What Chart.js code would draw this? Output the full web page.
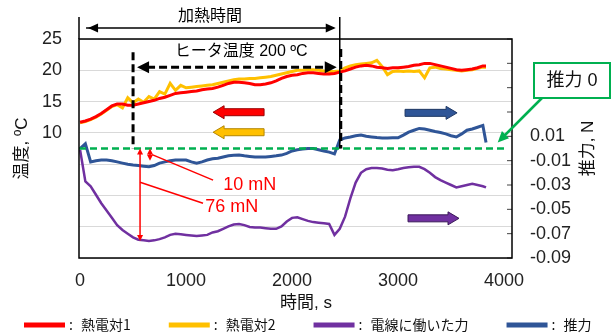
<!DOCTYPE html>
<html>
<head>
<meta charset="utf-8">
<script src="https://cdn.jsdelivr.net/npm/chart.js@4.4.0/dist/chart.umd.min.js"></script>
<style>
html, body { margin: 0; padding: 0; background: #fff; }
</style>
</head>
<body>
<canvas id="chart" width="612" height="334"></canvas>
<script>
// time, s
const time = [
  0, 50, 100, 150, 200, 250, 300, 350, 400, 450,
  500, 550, 600, 650, 700, 750, 800, 850, 900, 950,
  1000, 1050, 1100, 1150, 1200, 1250, 1300, 1350, 1400, 1450,
  1500, 1550, 1600, 1650, 1700, 1750, 1800, 1850, 1900, 1950,
  2000, 2050, 2100, 2150, 2200, 2250, 2300, 2350, 2400, 2450,
  2500, 2550, 2600, 2650, 2700, 2750, 2800, 2850, 2900, 2950,
  3000, 3050, 3100, 3150, 3200, 3250, 3300, 3350, 3400, 3450,
  3500, 3550, 3600, 3650, 3700, 3750, 3800, 3830
];
// 熱電対1, ºC
const thermo1 = [
  11.7, 11.9, 12.2, 12.6, 13.1, 13.7, 14.3, 14.6, 14.6, 14.4,
  14.4, 14.6, 14.8, 15.0, 15.2, 15.5, 15.7, 16.0, 16.3, 16.4,
  16.5, 16.6, 16.7, 16.9, 17.0, 17.1, 17.3, 17.6, 17.9, 18.1,
  18.1, 18.0, 17.9, 17.7, 17.7, 17.8, 18.0, 18.3, 18.7, 19.0,
  19.2, 19.3, 19.5, 19.6, 19.6, 19.5, 19.4, 19.4, 19.5, 19.7,
  19.9, 20.2, 20.5, 20.7, 20.8, 20.7, 20.5, 20.4, 20.3, 20.4,
  20.4, 20.5, 20.6, 20.8, 20.9, 21.1, 21.1, 20.9, 20.7, 20.5,
  20.3, 20.1, 20.0, 20.1, 20.2, 20.4, 20.7, 20.7
];
// 熱電対2, ºC
const thermo2 = [
  11.6, 11.8, 12.1, 12.5, 13.0, 13.6, 14.2, 14.5, 14.0, 15.6,
  14.8, 15.4, 14.9, 15.8, 15.4, 16.6, 16.2, 17.9, 16.8, 17.6,
  17.2, 17.3, 17.4, 17.5, 17.6, 17.7, 17.9, 18.1, 18.3, 18.5,
  18.6, 18.6, 18.7, 18.7, 18.8, 18.9, 19.0, 19.2, 19.4, 19.6,
  19.8, 20.0, 20.0, 20.1, 20.1, 20.0, 19.9, 19.8, 19.8, 19.9,
  20.4, 20.7, 20.9, 21.0, 21.1, 21.2, 21.6, 20.6, 19.3, 19.8,
  19.9, 19.8, 19.9, 19.8, 19.9, 18.8, 20.4, 20.5, 20.3, 20.2,
  20.1, 20.0, 19.9, 20.0, 20.1, 20.3, 20.5, 20.5
];
// 電線に働いた力, N
const wireForce = [
  -0.001, -0.027, -0.031, -0.038, -0.045, -0.051, -0.057, -0.063, -0.067, -0.070,
  -0.073, -0.075, -0.0755, -0.076, -0.0755, -0.0745, -0.073, -0.071, -0.070, -0.0705,
  -0.071, -0.0715, -0.072, -0.0715, -0.071, -0.069, -0.068, -0.066, -0.064, -0.0625,
  -0.062, -0.063, -0.0645, -0.065, -0.065, -0.0655, -0.066, -0.066, -0.064, -0.060,
  -0.057, -0.0565, -0.058, -0.0595, -0.0605, -0.061, -0.0615, -0.062, -0.071, -0.066,
  -0.056, -0.041, -0.028, -0.020, -0.017, -0.016, -0.016, -0.0165, -0.0175, -0.0178,
  -0.017, -0.016, -0.0155, -0.015, -0.015, -0.017, -0.020, -0.0235, -0.026, -0.028,
  -0.030, -0.032, -0.031, -0.030, -0.029, -0.030, -0.031, -0.032
];
// 推力, N
const thrust = [
  0.000, 0.004, -0.011, -0.010, -0.0095, -0.0095, -0.010, -0.011, -0.012, -0.013,
  -0.0136, -0.014, -0.0145, -0.015, -0.014, -0.012, -0.011, -0.010, -0.0095, -0.0095,
  -0.0095, -0.011, -0.012, -0.011, -0.0095, -0.0085, -0.008, -0.007, -0.006, -0.0055,
  -0.0054, -0.006, -0.0065, -0.007, -0.007, -0.007, -0.0065, -0.006, -0.0054, -0.004,
  -0.002, -0.001, -0.0005, 0.000, 0.000, -0.001, -0.002, -0.003, -0.0045, 0.007,
  0.0087, 0.0095, 0.0105, 0.011, 0.010, 0.0095, 0.009, 0.0087, 0.0087, 0.0088,
  0.0088, 0.011, 0.0135, 0.015, 0.0165, 0.016, 0.015, 0.014, 0.0132, 0.012,
  0.0105, 0.0095, 0.012, 0.015, 0.016, 0.0175, 0.019, 0.005
];

const xTicks = [0, 1000, 2000, 3000, 4000];
const tempTicks = [-10, -5, 0, 5, 10, 15, 20, 25];
const forceTicks = [-0.09, -0.07, -0.05, -0.03, -0.01, 0.01, 0.03, 0.05, 0.07, 0.09];
const seriesNames = ['熱電対1', '熱電対2', '電線に働いた力', '推力'];
const seriesColors = ['#ff0000', '#ffc000', '#7030a0', '#2f5597'];

// annotation values
const heatStart = 0, heatEnd = 2450, heaterOn = 500;
const small = -0.010, large = -0.076;

const LAT = "'Liberation Sans', 'Noto Sans CJK JP', sans-serif";
const JP = "'Noto Sans CJK JP', sans-serif";

function pts(arr) { return time.map((t, i) => ({ x: t, y: arr[i] })); }

function head(ctx, x, y, ang, len, half) {
  const bx = x - len * Math.cos(ang), by = y - len * Math.sin(ang);
  ctx.beginPath();
  ctx.moveTo(x, y);
  ctx.lineTo(bx + half * Math.sin(ang), by - half * Math.cos(ang));
  ctx.lineTo(bx - half * Math.sin(ang), by + half * Math.cos(ang));
  ctx.closePath();
  ctx.fill();
}

function seg(ctx, x1, y1, x2, y2) {
  ctx.beginPath();
  ctx.moveTo(x1, y1);
  ctx.lineTo(x2, y2);
  ctx.stroke();
}

function blockArrow(ctx, tail, tip, yc, fill, stroke) {
  const d = Math.sign(tip - tail), hl = 11 * d, sh = 3.5, hh = 6.5;
  ctx.beginPath();
  ctx.moveTo(tail, yc - sh);
  ctx.lineTo(tip - hl, yc - sh);
  ctx.lineTo(tip - hl, yc - hh);
  ctx.lineTo(tip, yc);
  ctx.lineTo(tip - hl, yc + hh);
  ctx.lineTo(tip - hl, yc + sh);
  ctx.lineTo(tail, yc + sh);
  ctx.closePath();
  ctx.fillStyle = fill;
  ctx.fill();
  ctx.strokeStyle = stroke;
  ctx.lineWidth = 1;
  ctx.stroke();
}

const extras = {
  id: 'extras',
  afterDatasetsDraw(chart) {
    const { ctx, chartArea: a, scales } = chart;
    const x = scales.x, y = scales.y, f = scales.y1;
    const zero = f.getPixelForValue(0);
    ctx.save();

    // zero thrust line
    ctx.strokeStyle = '#00b050';
    ctx.lineWidth = 2.5;
    ctx.setLineDash([7, 4]);
    seg(ctx, a.left, zero, a.right - 4, zero);
    ctx.setLineDash([]);

    // right axis inner ticks
    ctx.strokeStyle = '#444';
    ctx.lineWidth = 1;
    forceTicks.forEach(v => seg(ctx, a.right - 5, f.getPixelForValue(v), a.right, f.getPixelForValue(v)));

    // plot frame
    ctx.strokeStyle = '#000';
    ctx.lineWidth = 1.5;
    ctx.strokeRect(a.left, a.top, a.right - a.left, a.bottom - a.top);

    // heating time
    const x0 = x.getPixelForValue(heatStart), x1 = x.getPixelForValue(heatEnd);
    const ya = a.top - 11;
    ctx.fillStyle = '#000';
    ctx.lineWidth = 1.5;
    seg(ctx, a.left, a.top - 22, a.left, a.top);
    seg(ctx, x1, a.top - 22, x1, zero);
    seg(ctx, x0 + 6, ya, x1 - 6, ya);
    head(ctx, x0 + 8, ya, Math.PI, 10, 4.5);
    head(ctx, x1 - 4, ya, 0, 10, 4.5);
    ctx.font = '16px ' + JP;
    ctx.textAlign = 'center';
    ctx.textBaseline = 'middle';
    ctx.fillText('加熱時間', (x0 + x1) / 2, a.top - 24);

    // heater on
    const xh = x.getPixelForValue(heaterOn);
    const yh = y.getPixelForValue(20.5);
    ctx.lineWidth = 3;
    ctx.setLineDash([8, 4]);
    seg(ctx, xh, y.getPixelForValue(22.9), xh, zero);
    seg(ctx, x1 + 1, y.getPixelForValue(23.4), x1 + 1, zero);
    seg(ctx, xh + 14, yh, x1 - 14, yh);
    ctx.setLineDash([]);
    head(ctx, xh + 4, yh, Math.PI, 12, 6);
    head(ctx, x1 - 3, yh, 0, 12, 6);
    ctx.font = '16px ' + LAT;
    ctx.fillText('ヒータ温度 200 ºC', x.getPixelForValue(1520), y.getPixelForValue(23.0));

    // axis pointers
    const ta = x.getPixelForValue(1255), tb = x.getPixelForValue(1736);
    blockArrow(ctx, tb, ta, y.getPixelForValue(13.3), '#ff0000', '#9a0000');
    blockArrow(ctx, tb, ta, y.getPixelForValue(10.1), '#ffc000', '#b38600');
    blockArrow(ctx, x.getPixelForValue(3066), x.getPixelForValue(3557), f.getPixelForValue(0.0293), '#2f5597', '#1f3864');
    blockArrow(ctx, x.getPixelForValue(3094), x.getPixelForValue(3575), f.getPixelForValue(-0.0574), '#7030a0', '#3a1858');

    // force gaps
    ctx.strokeStyle = '#ff0000';
    ctx.fillStyle = '#ff0000';
    ctx.lineWidth = 1.5;
    const xs = x.getPixelForValue(660), xl = x.getPixelForValue(566);
    const ys = f.getPixelForValue(small), yl = f.getPixelForValue(large);
    seg(ctx, xs, zero + 4, xs, ys - 4);
    head(ctx, xs, zero, -Math.PI / 2, 6, 3);
    head(ctx, xs, ys, Math.PI / 2, 6, 3);
    seg(ctx, xl, zero + 4, xl, yl - 4);
    head(ctx, xl, zero, -Math.PI / 2, 6, 3);
    head(ctx, xl, yl, Math.PI / 2, 6, 3);
    seg(ctx, x.getPixelForValue(680), f.getPixelForValue(-0.005), x.getPixelForValue(1255), f.getPixelForValue(-0.026));
    seg(ctx, xl, f.getPixelForValue(-0.0277), x.getPixelForValue(1160), f.getPixelForValue(-0.045));
    ctx.font = '18px ' + LAT;
    ctx.textAlign = 'left';
    ctx.fillText('10 mN', x.getPixelForValue(1350), f.getPixelForValue(-0.030));
    ctx.fillText('76 mN', x.getPixelForValue(1180), f.getPixelForValue(-0.0483));

    // thrust zero callout
    const bx = a.right + 22, by = a.top + 24, bw = 76, bh = 35;
    ctx.strokeStyle = '#00b050';
    ctx.fillStyle = '#00b050';
    ctx.lineWidth = 2.5;
    const ex = x.getPixelForValue(3940), ey = f.getPixelForValue(0.005);
    const ang = Math.atan2(ey - (by + bh), ex - (bx + 8));
    seg(ctx, bx + 8, by + bh, ex - 8 * Math.cos(ang), ey - 8 * Math.sin(ang));
    head(ctx, ex, ey, ang, 11, 5);
    ctx.fillStyle = '#fff';
    ctx.fillRect(bx, by, bw, bh);
    ctx.lineWidth = 2;
    ctx.strokeRect(bx, by, bw, bh);
    ctx.fillStyle = '#111';
    ctx.font = '18px ' + LAT;
    ctx.textAlign = 'center';
    ctx.fillText('推力 0', bx + bw / 2, by + bh / 2 + 1);

    // axis titles
    const mid = (a.top + a.bottom) / 2;
    ctx.font = '17px ' + LAT;
    ctx.fillStyle = '#111';
    ctx.save();
    ctx.translate(22, mid);
    ctx.rotate(-Math.PI / 2);
    ctx.fillText('温度, ºC', 0, 0);
    ctx.restore();
    ctx.save();
    ctx.translate(588, mid);
    ctx.rotate(-Math.PI / 2);
    ctx.fillText('推力, N', 0, 0);
    ctx.restore();
    ctx.fillText('時間, s', 306, 303);

    // legend
    ctx.font = '14px ' + JP;
    ctx.textAlign = 'left';
    let lx = 24;
    const ly = 325;
    seriesNames.forEach((name, i) => {
      ctx.fillStyle = seriesColors[i];
      ctx.fillRect(lx, ly - 2.5, 41, 5);
      ctx.fillStyle = '#111';
      ctx.fillText(':', lx + 45, ly);
      ctx.fillText(name, lx + 57, ly);
      lx += 57 + ctx.measureText(name).width + 38;
    });

    ctx.restore();
  }
};

const widths = [3, 3, 2.5, 3];
const datasets = [thermo1, thermo2, wireForce, thrust].map((arr, i) => ({
  label: seriesNames[i],
  data: pts(arr),
  yAxisID: i < 2 ? 'y' : 'y1',
  borderColor: seriesColors[i],
  backgroundColor: seriesColors[i],
  borderWidth: widths[i],
  pointRadius: 0,
  tension: 0,
  fill: false
}));

const tickFont = { family: LAT, size: 18 };

new Chart(document.getElementById('chart'), {
  type: 'line',
  data: { datasets },
  options: {
    responsive: false,
    animation: false,
    devicePixelRatio: 1,
    layout: { padding: { top: 39, bottom: 24, left: 0, right: 0 } },
    plugins: { legend: { display: false }, tooltip: { enabled: false } },
    scales: {
      x: {
        type: 'linear',
        min: -10,
        max: 4075,
        afterBuildTicks: s => { s.ticks = xTicks.map(v => ({ value: v })); },
        afterFit: s => { s.height = 52; },
        grid: { display: false, drawTicks: false },
        border: { display: false },
        ticks: { font: tickFont, color: '#222', padding: 12, maxRotation: 0, autoSkip: false, callback: v => String(v) }
      },
      y: {
        position: 'left',
        min: -10,
        max: 25,
        afterBuildTicks: s => { s.ticks = tempTicks.map(v => ({ value: v })); },
        afterFit: s => { s.width = 79; },
        grid: { color: '#d9d9d9', drawTicks: false },
        border: { display: false },
        ticks: { font: tickFont, color: '#222', padding: 17, autoSkip: false, callback: v => (v >= 10 ? String(v) : '') }
      },
      y1: {
        position: 'right',
        min: -0.09,
        max: 0.09,
        afterBuildTicks: s => { s.ticks = forceTicks.map(v => ({ value: v })); },
        afterFit: s => { s.width = 100; },
        grid: { display: false, drawTicks: false },
        border: { display: false },
        ticks: { font: tickFont, color: '#222', padding: 18, autoSkip: false, callback: v => (v <= 0.011 ? v.toFixed(2) : '') }
      }
    }
  },
  plugins: [extras]
});
</script>
</body>
</html>
